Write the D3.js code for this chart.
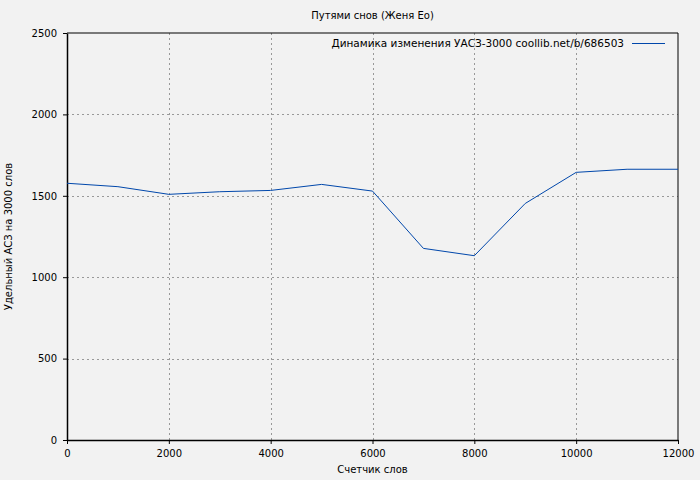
<!DOCTYPE html>
<html>
<head>
<meta charset="utf-8">
<script src="https://cdn.jsdelivr.net/npm/d3@7"></script>
<style>
  body { margin: 0; background: #f2f2f2; }
  svg { display: block; font-family: "DejaVu Sans", sans-serif; }
</style>
</head>
<body>
<svg width="700" height="480"></svg>
<script>
// данные графика
const words = [0, 1000, 2000, 3000, 4000, 5000, 6000, 7000, 8000, 9000, 10000, 11000, 12000];
const uasz = [1577, 1556, 1509, 1525, 1533, 1570, 1529, 1177, 1132, 1453, 1644, 1663, 1663];
const xTicks = [0, 2000, 4000, 6000, 8000, 10000, 12000];
const yTicks = [0, 500, 1000, 1500, 2000, 2500];

const title = "Путями снов (Женя Ео)";
const legendLabel = "Динамика изменения УАСЗ-3000 coollib.net/b/686503";

const svg = d3.select("svg"),
    width = +svg.attr("width"),
    height = +svg.attr("height");

const margin = {left: 67, right: 22, top: 33, bottom: 40};

const x = d3.scaleLinear().domain([0, 12000]).range([margin.left, width - margin.right]);
const y = d3.scaleLinear().domain([0, 2500]).range([height - margin.bottom, margin.top]);

svg.append("rect").attr("width", width).attr("height", height).attr("fill", "#f2f2f2");

// сетка
const grid = svg.append("g")
    .attr("stroke", "#999")
    .attr("stroke-dasharray", "2,3")
    .attr("shape-rendering", "crispEdges");
grid.selectAll(".gx")
    .data(xTicks.slice(1, -1))
    .enter().append("line")
    .attr("x1", d => Math.round(x(d)) + 0.5).attr("x2", d => Math.round(x(d)) + 0.5)
    .attr("y1", y(0)).attr("y2", y(2500));
grid.selectAll(".gy")
    .data(yTicks.slice(1, -1))
    .enter().append("line")
    .attr("y1", d => Math.round(y(d)) + 0.5).attr("y2", d => Math.round(y(d)) + 0.5)
    .attr("x1", x(0)).attr("x2", x(12000));

// оси
const fmt = d3.format("d");
const xAxis = svg.append("g")
    .attr("transform", `translate(0,${y(0)})`)
    .call(d3.axisBottom(x).tickValues(xTicks).tickFormat(fmt).tickSize(4).tickSizeOuter(0).tickPadding(6));
const yAxis = svg.append("g")
    .attr("transform", `translate(${x(0)},0)`)
    .call(d3.axisLeft(y).tickValues(yTicks).tickFormat(fmt).tickSize(4).tickSizeOuter(0).tickPadding(6));
[xAxis, yAxis].forEach(a => {
    a.selectAll("text").attr("font-size", 10).attr("font-family", "DejaVu Sans").attr("fill", "#000");
    a.selectAll("line, path").attr("stroke", "#000");
});
yAxis.selectAll(".domain").attr("stroke-width", 1.5);
xAxis.selectAll(".domain").attr("stroke-width", 1.5);

// рамка сверху и справа
svg.append("path")
    .attr("d", `M${x(0)},${y(2500)}H${x(12000)}V${y(0)}`)
    .attr("fill", "none").attr("stroke", "#000").attr("stroke-width", 1);

// линия
const line = d3.line().x((d, i) => x(words[i])).y(d => y(d));
svg.append("path")
    .datum(uasz)
    .attr("d", line)
    .attr("fill", "none")
    .attr("stroke", "#0047ab")
    .attr("stroke-width", 1);

// подписи
svg.append("text")
    .attr("x", (x(0) + x(12000)) / 2).attr("y", 19)
    .attr("text-anchor", "middle").attr("font-size", 10)
    .text(title);

svg.append("text")
    .attr("x", (x(0) + x(12000)) / 2).attr("y", 473)
    .attr("text-anchor", "middle").attr("font-size", 10)
    .text("Счетчик слов");

svg.append("text")
    .attr("transform", `translate(12,${(y(0) + y(2500)) / 2}) rotate(-90)`)
    .attr("text-anchor", "middle").attr("font-size", 10)
    .text("Удельный АСЗ на 3000 слов");

// легенда
svg.append("text")
    .attr("x", 624).attr("y", 47)
    .attr("text-anchor", "end").attr("font-size", 10.5)
    .text(legendLabel);
svg.append("line")
    .attr("x1", 632).attr("x2", 665).attr("y1", 43.5).attr("y2", 43.5)
    .attr("stroke", "#0047ab").attr("stroke-width", 1);
</script>
</body>
</html>
